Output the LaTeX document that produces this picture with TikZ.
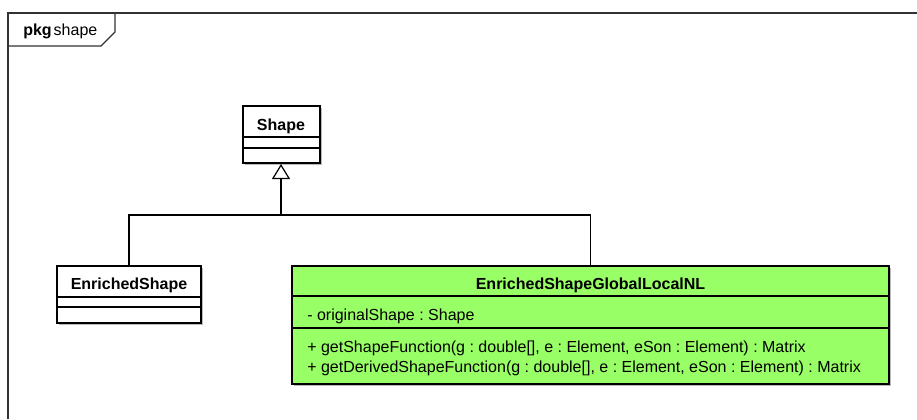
\documentclass[tikz,border=0pt]{standalone}
\usepackage{fontspec}
\setmainfont{Liberation Sans}
\usetikzlibrary{arrows.meta,calc,shadows}
\definecolor{classgreen}{RGB}{153,255,102}
\definecolor{shadowgray}{RGB}{185,185,185}
\definecolor{framegray}{RGB}{50,50,50}
\frenchspacing
\begin{document}
\begin{tikzpicture}[x=0.75pt,y=-0.75pt,
  font=\fontsize{12}{15}\selectfont,
  classbox/.style={rectangle, draw=black, line width=1.5pt, fill=white, inner sep=0pt,
    drop shadow={shadow xshift=1.5pt, shadow yshift=-1.5pt, fill=shadowgray, opacity=1}},
  divider/.style={line width=0.9pt},
  conn/.style={line width=0.9pt, draw=black},
  title/.style={anchor=base, font=\fontsize{12}{15}\selectfont\bfseries},
  member/.style={anchor=base west, inner sep=0pt},
  framepen/.style={line width=1pt, draw=framegray}
]
\useasboundingbox (0,0) rectangle (917,419);

% package frame with its name tab
\draw[framepen] (8,419) -- (8,13) -- (917,13);
\draw[framepen] (8,46) -- (101,46) -- (115,32) -- (115,13);
\node[anchor=base west, inner sep=0pt] (pkgname) at (23,35) {\textbf{pkg}\kern1.5pt shape};

% class Shape
\node[classbox, minimum width=57.75pt, minimum height=42.75pt] (shape) at (281,134.5) {};
\draw[divider] ($(shape.north west)+(0,32)$) -- ($(shape.north east)+(0,32)$);
\draw[divider] ($(shape.north west)+(0,43)$) -- ($(shape.north east)+(0,43)$);
\node[title] (shapetitle) at (281,130) {Shape};

% class EnrichedShape
\node[classbox, minimum width=108pt, minimum height=42.75pt] (enriched) at (129,294.5) {};
\draw[divider] ($(enriched.north west)+(0,32)$) -- ($(enriched.north east)+(0,32)$);
\draw[divider] ($(enriched.north west)+(0,42)$) -- ($(enriched.north east)+(0,42)$);
\node[title] (enrichedtitle) at (129,289) {EnrichedShape};

% class EnrichedShapeGlobalLocalNL
\node[classbox, fill=classgreen, minimum width=447.75pt, minimum height=88.5pt] (global) at (590.5,325) {};
\draw[divider] ($(global.north west)+(0,31)$) -- ($(global.north east)+(0,31)$);
\draw[divider] ($(global.north west)+(0,63)$) -- ($(global.north east)+(0,63)$);
\node[title] (globaltitle) at (590.5,289) {EnrichedShapeGlobalLocalNL};
\node[member] (attr) at (307,320) {- originalShape : Shape};
\node[member] (meth1) at (307,352) {+ getShapeFunction(g : double[], e : Element, eSon : Element) : Matrix};
\node[member] (meth2) at (307,372) {+ getDerivedShapeFunction(g : double[], e : Element, eSon : Element) : Matrix};

% generalization tree
\coordinate (join) at (281,215);
\draw[conn, -{Triangle[open, length=11.25pt, width=13.5pt, line width=0.9pt]}] (join) -- (shape.south);
\draw[conn] (enriched.north) |- (join);
\draw[conn] (global.north) |- (join);
\end{tikzpicture}
\end{document}
